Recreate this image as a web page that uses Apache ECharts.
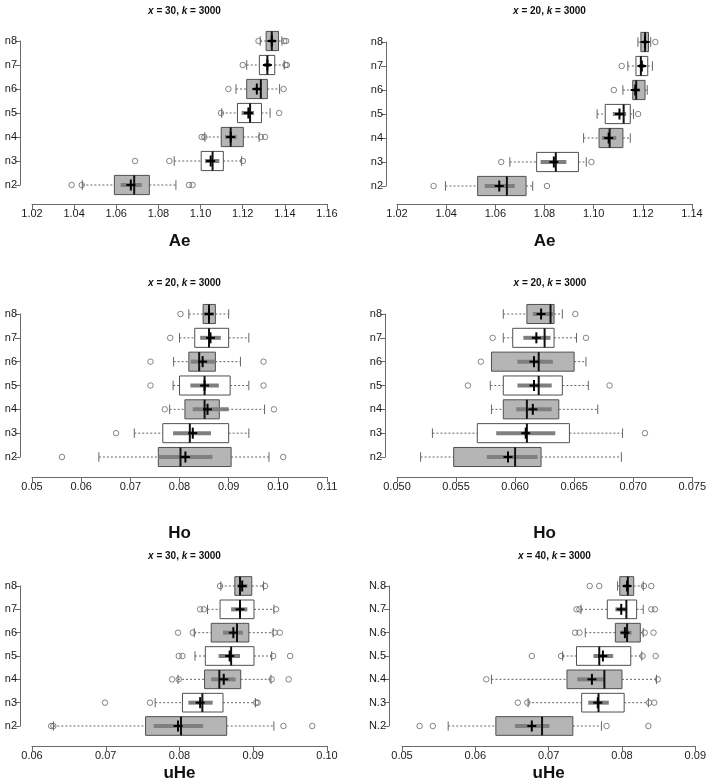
<!DOCTYPE html>
<html><head><meta charset="utf-8">
<script src="https://cdn.jsdelivr.net/npm/echarts@6/dist/echarts.min.js"></script>
<style>html,body{margin:0;padding:0;background:#fff}#c{width:709px;height:783px}</style>
</head><body><div id="c"></div>
<script>
// ---------- DATA ----------
const catsLower = ['n2', 'n3', 'n4', 'n5', 'n6', 'n7', 'n8'];
const catsUpper = ['N.2', 'N.3', 'N.4', 'N.5', 'N.6', 'N.7', 'N.8'];

// stats per category: [q1, q3, median, mean, ciLow, ciHigh, whiskerLow, whiskerHigh]
const aeX30Stats = [
  [1.0591, 1.0757, 1.0685, 1.0669, 1.0621, 1.0721, 1.0439, 1.0883],
  [1.1003, 1.1108, 1.1057, 1.1048, 1.1021, 1.1089, 1.0875, 1.1195],
  [1.1098, 1.1203, 1.1143, 1.1143, 1.1116, 1.1171, 1.1020, 1.1278],
  [1.1175, 1.1289, 1.1235, 1.1227, 1.1195, 1.1254, 1.1100, 1.1330],
  [1.1219, 1.1317, 1.1286, 1.1267, 1.1251, 1.1286, 1.1168, 1.1375],
  [1.1279, 1.1352, 1.1317, 1.1317, 1.1302, 1.1333, 1.1219, 1.1397],
  [1.1311, 1.1370, 1.1338, 1.1338, 1.1324, 1.1354, 1.1283, 1.1386]
];
const aeX30Out = [
  [1.0388, 1.0436, 1.0945, 1.0962],
  [1.0689, 1.0852, 1.1201],
  [1.1005, 1.1018, 1.1286, 1.1306],
  [1.1097, 1.1373],
  [1.1132, 1.1394],
  [1.1200, 1.1403, 1.1410],
  [1.1275, 1.1397, 1.1406]
];
const aeX30Ticks = [1.02, 1.04, 1.06, 1.08, 1.10, 1.12, 1.14, 1.16];

const aeX20Stats = [
  [1.0528, 1.0725, 1.0647, 1.0616, 1.0557, 1.0679, 1.0397, 1.0752],
  [1.0768, 1.0938, 1.0846, 1.0838, 1.0784, 1.0889, 1.0659, 1.0970],
  [1.1022, 1.1119, 1.1065, 1.1061, 1.1034, 1.1092, 1.0959, 1.1149],
  [1.1047, 1.1149, 1.1122, 1.1105, 1.1078, 1.1132, 1.1014, 1.1162],
  [1.1159, 1.1209, 1.1173, 1.1169, 1.1159, 1.1189, 1.1119, 1.1218],
  [1.1172, 1.1220, 1.1192, 1.1196, 1.1184, 1.1207, 1.1139, 1.1239],
  [1.1192, 1.1223, 1.1209, 1.1209, 1.1200, 1.1218, 1.1180, 1.1232]
];
const aeX20Out = [
  [1.0349, 1.0810],
  [1.0624, 1.0991],
  [],
  [1.1181],
  [1.1082],
  [1.1114],
  [1.1251]
];
const aeX20Ticks = [1.02, 1.04, 1.06, 1.08, 1.10, 1.12, 1.14];

const hoAStats = [
  [0.0757, 0.0905, 0.0802, 0.0812, 0.0757, 0.0867, 0.0636, 0.0982],
  [0.0766, 0.0900, 0.0821, 0.0827, 0.0787, 0.0864, 0.0708, 0.0941],
  [0.0811, 0.0881, 0.0851, 0.0857, 0.0827, 0.0900, 0.0780, 0.0973],
  [0.0800, 0.0903, 0.0851, 0.0851, 0.0822, 0.0880, 0.0787, 0.0941],
  [0.0819, 0.0873, 0.0840, 0.0847, 0.0823, 0.0873, 0.0788, 0.0924],
  [0.0831, 0.0900, 0.0860, 0.0863, 0.0842, 0.0884, 0.0800, 0.0941],
  [0.0848, 0.0873, 0.0860, 0.0860, 0.0850, 0.0870, 0.0819, 0.0900]
];
const hoAOut = [
  [0.0561, 0.1011],
  [0.0671],
  [0.0770, 0.0992],
  [0.0741, 0.0971],
  [0.0741, 0.0971],
  [0.0781],
  [0.0802]
];
const hoATicks = [0.05, 0.06, 0.07, 0.08, 0.09, 0.10, 0.11];

const hoBStats = [
  [0.0548, 0.0622, 0.0600, 0.0594, 0.0576, 0.0619, 0.0520, 0.0690],
  [0.0568, 0.0646, 0.0610, 0.0609, 0.0584, 0.0634, 0.0530, 0.0691],
  [0.0590, 0.0637, 0.0610, 0.0615, 0.0601, 0.0631, 0.0580, 0.0670],
  [0.0590, 0.0640, 0.0620, 0.0616, 0.0602, 0.0631, 0.0579, 0.0662],
  [0.0580, 0.0650, 0.0620, 0.0616, 0.0602, 0.0632, 0.0580, 0.0660],
  [0.0598, 0.0633, 0.0625, 0.0618, 0.0607, 0.0630, 0.0590, 0.0652],
  [0.0610, 0.0633, 0.0630, 0.0622, 0.0615, 0.0632, 0.0590, 0.0640]
];
const hoBOut = [
  [],
  [0.0710],
  [],
  [0.0560, 0.0680],
  [0.0571],
  [0.0581, 0.0660],
  [0.0651]
];
const hoBTicks = [0.050, 0.055, 0.060, 0.065, 0.070, 0.075];

const uheAStats = [
  [0.0754, 0.0864, 0.0802, 0.0798, 0.0765, 0.0832, 0.0629, 0.0928],
  [0.0804, 0.0859, 0.0831, 0.0828, 0.0812, 0.0845, 0.0767, 0.0903],
  [0.0834, 0.0883, 0.0854, 0.0860, 0.0843, 0.0876, 0.0798, 0.0924],
  [0.0835, 0.0901, 0.0870, 0.0868, 0.0853, 0.0882, 0.0821, 0.0925],
  [0.0843, 0.0894, 0.0878, 0.0873, 0.0859, 0.0886, 0.0820, 0.0927],
  [0.0855, 0.0901, 0.0882, 0.0882, 0.0870, 0.0892, 0.0838, 0.0928],
  [0.0875, 0.0898, 0.0882, 0.0885, 0.0879, 0.0892, 0.0856, 0.0914]
];
const uheAOut = [
  [0.0626, 0.0629, 0.0941, 0.0980],
  [0.0699, 0.0760, 0.0904, 0.0906],
  [0.0790, 0.0799, 0.0925, 0.0948],
  [0.0799, 0.0804, 0.0927, 0.0950],
  [0.0798, 0.0818, 0.0929, 0.0936],
  [0.0828, 0.0833, 0.0931],
  [0.0855, 0.0916]
];
const uheATicks = [0.06, 0.07, 0.08, 0.09, 0.10];

const uheBStats = [
  [0.0628, 0.0733, 0.0691, 0.0677, 0.0654, 0.0701, 0.0563, 0.0772],
  [0.0745, 0.0803, 0.0768, 0.0767, 0.0754, 0.0782, 0.0672, 0.0836],
  [0.0725, 0.0800, 0.0776, 0.0759, 0.0739, 0.0776, 0.0622, 0.0847],
  [0.0738, 0.0812, 0.0769, 0.0774, 0.0761, 0.0788, 0.0719, 0.0827],
  [0.0791, 0.0825, 0.0807, 0.0804, 0.0798, 0.0813, 0.0750, 0.0829],
  [0.0780, 0.0820, 0.0806, 0.0799, 0.0791, 0.0807, 0.0744, 0.0829],
  [0.0797, 0.0816, 0.0808, 0.0807, 0.0802, 0.0811, 0.0794, 0.0829]
];
const uheBOut = [
  [0.0524, 0.0542, 0.0779, 0.0836],
  [0.0658, 0.0671, 0.0837, 0.0844],
  [0.0615, 0.0849],
  [0.0677, 0.0717, 0.0828, 0.0846],
  [0.0736, 0.0742, 0.0831, 0.0843],
  [0.0738, 0.0742, 0.0840, 0.0845],
  [0.0756, 0.0769, 0.0830, 0.0840]
];
const uheBTicks = [0.05, 0.06, 0.07, 0.08, 0.09];

const panelTitles = ['{i|x} = 30, {i|k} = 3000', '{i|x} = 20, {i|k} = 3000', '{i|x} = 20, {i|k} = 3000',
                     '{i|x} = 20, {i|k} = 3000', '{i|x} = 30, {i|k} = 3000', '{i|x} = 40, {i|k} = 3000'];
const axisNames = ['Ae', 'Ae', 'Ho', 'Ho', 'uHe', 'uHe'];

// ---------- LAYOUT ----------
const panels = [
  { stats: aeX30Stats, out: aeX30Out, ticks: aeX30Ticks, cats: catsLower, dec: 2,
    left: 32, top: 41, w: 295, h: 144, xOff: 19, yOff: 12, titleY: 1, nameGap: 29 },
  { stats: aeX20Stats, out: aeX20Out, ticks: aeX20Ticks, cats: catsLower, dec: 2,
    left: 397, top: 42, w: 295, h: 144, xOff: 18, yOff: 11, titleY: 1, nameGap: 29 },
  { stats: hoAStats, out: hoAOut, ticks: hoATicks, cats: catsLower, dec: 2,
    left: 32, top: 314, w: 295, h: 143, xOff: 20, yOff: 12, titleY: 273, nameGap: 48 },
  { stats: hoBStats, out: hoBOut, ticks: hoBTicks, cats: catsLower, dec: 3,
    left: 397, top: 314, w: 296, h: 143, xOff: 20, yOff: 12, titleY: 273, nameGap: 48 },
  { stats: uheAStats, out: uheAOut, ticks: uheATicks, cats: catsLower, dec: 2,
    left: 32, top: 586, w: 295, h: 143, xOff: 20, yOff: 12, titleY: 546, nameGap: 19 },
  { stats: uheBStats, out: uheBOut, ticks: uheBTicks, cats: catsUpper, dec: 2,
    left: 402, top: 586, w: 295, h: 143, xOff: 20, yOff: 13, titleY: 546, nameGap: 19 }
];

const FONT = 'Liberation Sans, Arial, sans-serif';
const AX = '#6a6a6a';

function renderBox(params, api) {
  const y = api.value(0);
  const q1 = api.value(1), q3 = api.value(2), med = api.value(3), mean = api.value(4);
  const ciL = api.value(5), ciH = api.value(6), wL = api.value(7), wH = api.value(8);
  const unit = api.size([0, 1])[1];
  const bh = unit * 0.4;
  const cap = unit * 0.2;
  const pQ1 = api.coord([q1, y]), pQ3 = api.coord([q3, y]);
  const cy = pQ1[1];
  const xMed = api.coord([med, y])[0], xMean = api.coord([mean, y])[0];
  const xCiL = api.coord([ciL, y])[0], xCiH = api.coord([ciH, y])[0];
  const xWL = api.coord([wL, y])[0], xWH = api.coord([wH, y])[0];
  const filled = (y % 2 === 0);
  const dash = { stroke: '#666', lineWidth: 1, lineDash: [2, 2] };
  const solid = { stroke: '#666', lineWidth: 1 };
  return {
    type: 'group',
    children: [
      { type: 'line', shape: { x1: xWL, y1: cy, x2: pQ1[0], y2: cy }, style: dash },
      { type: 'line', shape: { x1: pQ3[0], y1: cy, x2: xWH, y2: cy }, style: dash },
      { type: 'line', shape: { x1: xWL, y1: cy - cap, x2: xWL, y2: cy + cap }, style: solid },
      { type: 'line', shape: { x1: xWH, y1: cy - cap, x2: xWH, y2: cy + cap }, style: solid },
      { type: 'rect', shape: { x: pQ1[0], y: cy - bh, width: pQ3[0] - pQ1[0], height: 2 * bh },
        style: { fill: filled ? '#b5b5b5' : '#ffffff', stroke: '#505050', lineWidth: 1 } },
      { type: 'line', shape: { x1: xCiL, y1: cy, x2: xCiH, y2: cy },
        style: { stroke: '#7f7f7f', lineWidth: 4 } },
      { type: 'line', shape: { x1: xMed, y1: cy - bh, x2: xMed, y2: cy + bh },
        style: { stroke: '#111', lineWidth: 2 } },
      { type: 'line', shape: { x1: xMean - 4.5, y1: cy, x2: xMean + 4.5, y2: cy },
        style: { stroke: '#000', lineWidth: 2 } },
      { type: 'line', shape: { x1: xMean, y1: cy - 5.5, x2: xMean, y2: cy + 5.5 },
        style: { stroke: '#000', lineWidth: 2 } }
    ]
  };
}

const option = {
  backgroundColor: '#fff',
  animation: false,
  title: [], grid: [], xAxis: [], yAxis: [], series: []
};

panels.forEach((p, i) => {
  const t = p.ticks;
  const step = +(t[1] - t[0]).toFixed(6);
  option.grid.push({ left: p.left, top: p.top, width: p.w, height: p.h, containLabel: false });
  option.title.push({
    text: panelTitles[i],
    left: p.left + p.w / 2, top: p.titleY, textAlign: 'center',
    textStyle: { fontFamily: FONT, fontSize: 10, fontWeight: 'bold', color: '#111',
      rich: { i: { fontFamily: FONT, fontSize: 10, fontWeight: 'bold', fontStyle: 'italic', color: '#111' } } }
  });
  option.xAxis.push({
    type: 'value', gridIndex: i, min: t[0], max: t[t.length - 1], interval: step,
    offset: p.xOff, position: 'bottom',
    name: axisNames[i], nameLocation: 'middle', nameGap: p.nameGap,
    nameTextStyle: { fontFamily: FONT, fontSize: 17, fontWeight: 'bold', color: '#111' },
    axisLine: { show: true, onZero: false, lineStyle: { color: AX, width: 1 } },
    axisTick: { show: true, length: 5, lineStyle: { color: AX } },
    axisLabel: { fontFamily: FONT, fontSize: 11, color: '#1a1a1a', margin: 4,
      formatter: v => (+v).toFixed(p.dec), showMinLabel: true, showMaxLabel: true },
    splitLine: { show: false }
  });
  option.yAxis.push({
    type: 'value', gridIndex: i, min: 2, max: 8, interval: 1, offset: p.yOff,
    axisLine: { show: true, onZero: false, lineStyle: { color: AX, width: 1 } },
    axisTick: { show: true, length: 5, lineStyle: { color: AX } },
    axisLabel: { fontFamily: FONT, fontSize: 11, color: '#1a1a1a', margin: 3,
      formatter: v => p.cats[Math.round(v) - 2] || '' },
    splitLine: { show: false }
  });
  option.series.push({
    type: 'custom', xAxisIndex: i, yAxisIndex: i, clip: false,
    renderItem: renderBox,
    encode: { x: [1, 2, 3, 4, 5, 6, 7, 8], y: 0 },
    data: p.stats.map((s, k) => [k + 2].concat(s))
  });
  const pts = [];
  p.out.forEach((arr, k) => arr.forEach(v => pts.push([v, k + 2])));
  option.series.push({
    type: 'scatter', xAxisIndex: i, yAxisIndex: i, clip: false, z: 5,
    symbol: 'circle', symbolSize: 5.5,
    itemStyle: { color: 'rgba(0,0,0,0)', borderColor: '#666', borderWidth: 1 },
    data: pts
  });
});

const chart = echarts.init(document.getElementById('c'), null, { renderer: 'canvas' });
chart.setOption(option);
</script>
</body></html>
